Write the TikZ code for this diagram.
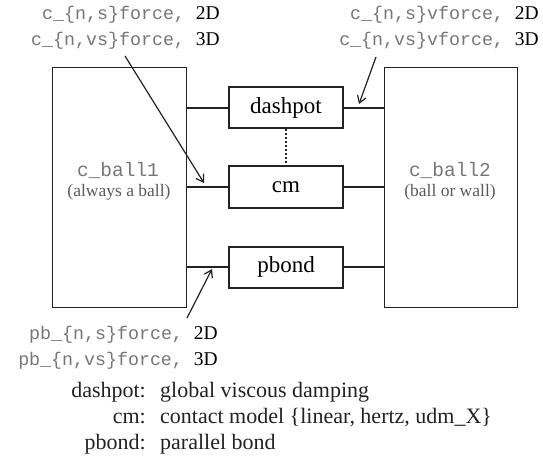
\documentclass[tikz,border=0pt]{standalone}
\usepackage{fontspec}
\setmainfont{Liberation Serif}
\setmonofont{Liberation Mono}
\usetikzlibrary{arrows.meta}
\definecolor{monogray}{HTML}{767676}
\definecolor{ink}{HTML}{222222}
\definecolor{subgray}{HTML}{5A5A5A}
\tikzset{
  bigbox/.style={draw=ink, line width=1.3pt, minimum height=240pt, inner sep=0pt, anchor=north west},
  smallbox/.style={draw=ink, line width=2pt, minimum width=114pt, minimum height=41pt, inner sep=0pt, font=\fontsize{23}{25}\selectfont},
  link/.style={draw=ink, line width=2pt},
  ptr/.style={draw=ink, line width=1.2pt, -{Straight Barb[length=7pt,width=9pt,line width=1.2pt]}},
  lbl/.style={inner sep=0pt, font=\fontsize{19.5}{22}\selectfont},
  balltxt/.style={inner sep=0pt, font=\fontsize{19.5}{22}\selectfont\ttfamily, text=monogray},
  subtxt/.style={inner sep=0pt, font=\fontsize{17.5}{20}\selectfont, text=subgray},
  legend/.style={inner sep=0pt, font=\fontsize{22}{25}\selectfont, text=ink},
}
\newcommand{\mt}[1]{{\color{monogray}\fontsize{18.3}{20}\selectfont\ttfamily #1}}
\begin{document}
\begin{tikzpicture}[x=1pt,y=-1pt]
\useasboundingbox (0,0) rectangle (543,457);
% big boxes
\node[bigbox, minimum width=134pt] (b1) at (52,67) {};
\node[bigbox, minimum width=133pt] (b2) at (384,67) {};
\node[balltxt] (t1) at (118,170) {c\_ball1};
\node[subtxt] (u1) at (119,192) {(always a ball)};
\node[balltxt] (t2) at (450,170) {c\_ball2};
\node[subtxt] (u2) at (450,192) {(ball or wall)};
% small boxes
\node[smallbox] (dp) at (286,108) {dashpot};
\node[smallbox] (cm) at (286,187) {cm};
\node[smallbox] (pb) at (286,267) {pbond};
% links
\draw[link] (b1.east |- dp) -- (dp.west);
\draw[link] (dp.east) -- (b2.west |- dp);
\draw[link] (b1.east |- cm) -- (cm.west);
\draw[link] (cm.east) -- (b2.west |- cm);
\draw[link] (b1.east |- pb) -- (pb.west);
\draw[link] (pb.east) -- (b2.west |- pb);
\draw[draw=ink, line width=2pt, dotted] (dp.south) -- (cm.north);
% labels
\node[lbl, anchor=east] (la) at (220,15) {\mt{c\_\{n,s\}force,\ }2D};
\node[lbl, anchor=east] (lb) at (220,41) {\mt{c\_\{n,vs\}force,\ }3D};
\node[lbl, anchor=east] (ra) at (539,15) {\mt{c\_\{n,s\}vforce,\ }2D};
\node[lbl, anchor=east] (rb) at (539,41) {\mt{c\_\{n,vs\}vforce,\ }3D};
\node[lbl, anchor=east] (pa) at (218,335) {\mt{pb\_\{n,s\}force,\ }2D};
\node[lbl, anchor=east] (pbl) at (218,361) {\mt{pb\_\{n,vs\}force,\ }3D};
% pointers
\coordinate (s1) at (125,56);
\coordinate (e1) at (204,183);
\coordinate (s2) at (376,57);
\coordinate (e2) at (359,104);
\coordinate (s3) at (187,318);
\coordinate (e3) at (212,269);
\draw[ptr] (s1) -- (e1);
\draw[ptr] (s2) -- (e2);
\draw[ptr] (s3) -- (e3);
% legend
\node[legend, anchor=base east] (k1) at (146,397) {dashpot:};
\node[legend, anchor=base east] (k2) at (146,423) {cm:};
\node[legend, anchor=base east] (k3) at (146,449) {pbond:};
\node[legend, anchor=base west] (v1) at (160,397) {global viscous damping};
\node[legend, anchor=base west] (v2) at (160,423) {contact model \{linear, hertz, udm\_X\}};
\node[legend, anchor=base west] (v3) at (160,449) {parallel bond};
\end{tikzpicture}
\end{document}
